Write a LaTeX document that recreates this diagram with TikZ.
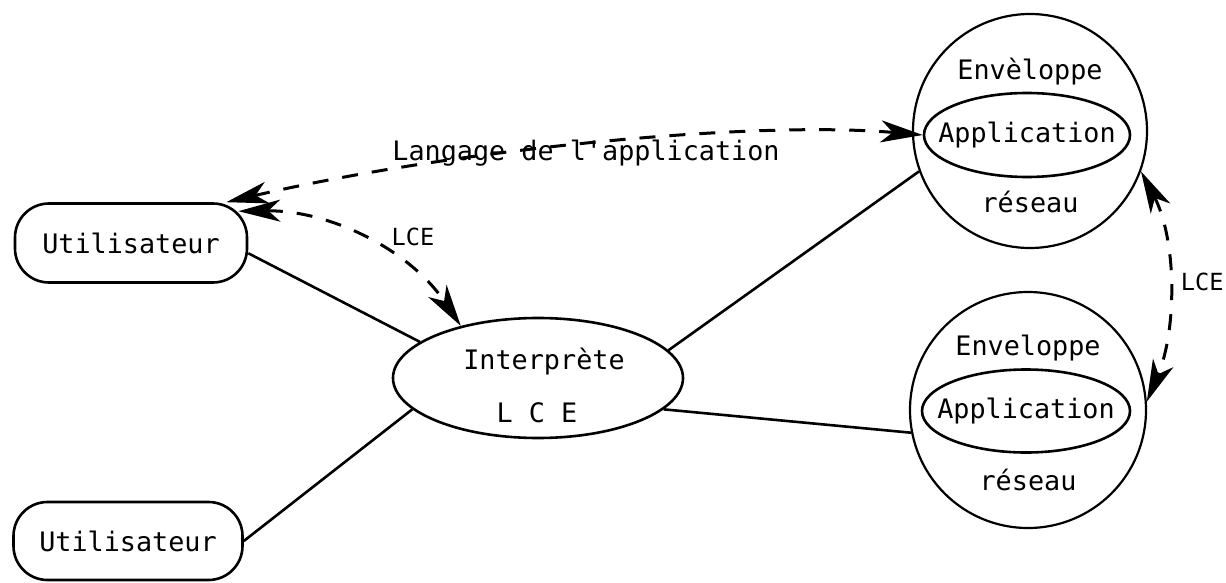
\documentclass[tikz,border=0pt]{standalone}
\usepackage{fontspec}
\newfontfamily\tw{DejaVu Sans Mono}
\usetikzlibrary{arrows.meta,shapes.geometric}
\tikzset{
  box/.style={draw, line width=1.3pt, rounded corners=17pt, minimum width=116pt, minimum height=39.5pt, inner sep=0pt, font=\tw\fontsize{13.4}{15}\selectfont},
  ell/.style={draw, ellipse, line width=1.3pt, inner sep=0pt},
  circ/.style={draw, circle, line width=1.1pt, minimum size=117pt, inner sep=0pt},
  txt/.style={font=\tw\fontsize{13.4}{15}\selectfont, inner sep=0pt},
  lab/.style={font=\tw\fontsize{11.8}{13}\selectfont, inner sep=0pt},
  link/.style={line width=1.3pt},
  darr/.style={line width=1.5pt, dash pattern=on 8pt off 7pt, {Stealth[length=21pt,width=11pt,inset=6pt]}-{Stealth[length=21pt,width=11pt,inset=6pt]}},
}
\begin{document}
\begin{tikzpicture}[x=0.5pt,y=-0.5pt]
\useasboundingbox (0,0) rectangle (1226,583);
\clip (0,0) rectangle (1226,583);
\fill[white] (0,0) rectangle (1226,583);

% nodes
\node[box] (U1) at (131,243) {Utilisateur};
\node[box, minimum width=114.5pt, minimum height=39pt] (U2) at (128,541) {Utilisateur};
\node[ell, minimum width=145pt, minimum height=60pt] (I) at (538,378) {};
\node[txt] (It) at (544,362) {Interprète};
\node[txt] (Il) at (537,413) {L C E};

\node[circ] (C1) at (1030,131) {};
\node[ell, minimum width=103pt, minimum height=42pt] (A1) at (1027,135) {};
\node[txt] (A1t) at (A1) {Application};
\node[txt] (E1) at (1030,72) {Envèloppe};
\node[txt] (R1) at (1030,202) {réseau};

\node[circ, minimum size=118pt] (C2) at (1028,410) {};
\node[ell, minimum width=104pt, minimum height=41.5pt] (A2) at (1026,411) {};
\node[txt] (A2t) at (A2) {Application};
\node[txt] (E2) at (1028,348) {Enveloppe};
\node[txt] (R2) at (1028,480) {réseau};

% solid links
\draw[link] (U1.-5) -- (I.163);
\draw[link] (U2.east) -- (I.194);
\draw[link] (I.12) -- (C1.200);
\draw[link] (I.-14) -- (C2.191);

% dashed arrows
\draw[darr] ([xshift=-11pt]U1.north east) .. controls (450,150) and (750,120) .. (A1.west);
\node[txt] (Lg) at (586,153) {Langage de l'application};

\draw[darr] ([xshift=-5pt,yshift=-4.5pt]U1.north east) .. controls (330,210) and (410,250) .. (I.146);
\node[lab] (L1) at (413,237) {LCE};

\draw[darr] (C1.-20) .. controls (1177,240) and (1177,330) .. (C2.4);
\node[lab, anchor=east] (L2) at (1224,282) {LCE};
\end{tikzpicture}
\end{document}
